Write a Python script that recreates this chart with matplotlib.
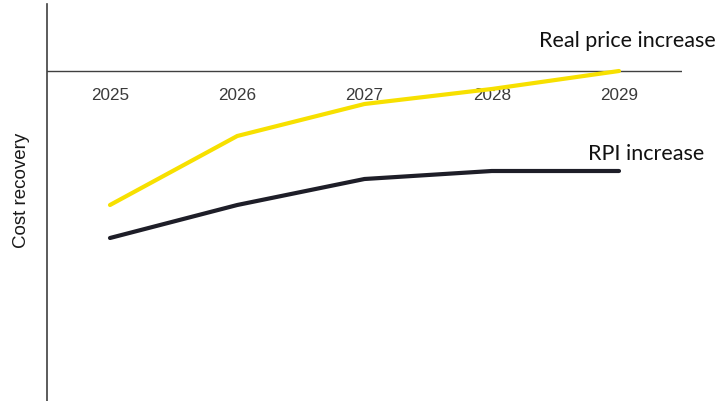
import matplotlib
matplotlib.use("Agg")
import matplotlib.pyplot as plt

years = [2025, 2026, 2027, 2028, 2029]
real_price = [-134, -65, -33, -18, 0]
rpi = [-167, -134, -108, -100, -100]
ylabel = "Cost recovery"
label_real = "Real price increase"
label_rpi = "RPI increase"

W, H = 721, 402
fig = plt.figure(figsize=(W / 100, H / 100), dpi=100)
ax = fig.add_axes([47 / W, 0, 635 / W, 397 / H])
ax.set_xlim(2024.505, 2029.495)
ax.set_ylim(-330, 67)

for s in ["top", "right", "bottom"]:
    ax.spines[s].set_visible(False)
ax.spines["left"].set_color("#404040")
ax.spines["left"].set_linewidth(1.2)
ax.set_xticks([])
ax.set_yticks([])

ax.axhline(0, color="#404040", lw=1.0, zorder=1)

ax.plot(years, real_price, color="#F7E000", lw=3.0, solid_capstyle="round", zorder=3)
ax.plot(years, rpi, color="#1E1E28", lw=3.0, solid_capstyle="round", zorder=3)

for y in years:
    ax.text(y, -23, str(y), ha="center", va="center", fontsize=12.3,
            family="Liberation Sans", color="#3a3a3a", zorder=2)

ax.text(2028.37, 25, label_real, ha="left", va="baseline", fontsize=15.5,
        family="Lato", color="#111111", clip_on=False)
ax.text(2028.76, -88, label_rpi, ha="left", va="baseline", fontsize=15.5,
        family="Lato", color="#111111", clip_on=False)

fig.text(22 / W, 1 - 190 / H, ylabel, rotation=90, ha="center", va="center",
         fontsize=13.5, family="Liberation Sans", color="#1a1a1a")

fig.savefig("out.png", dpi=100)
